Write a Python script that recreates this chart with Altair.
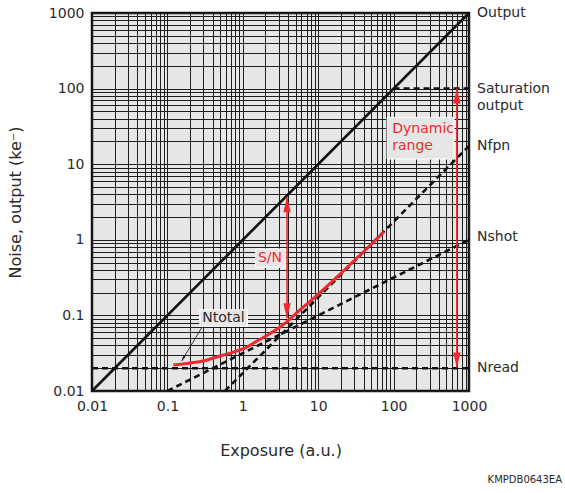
import altair as alt
import pandas as pd

FONT = "DejaVu Sans"
RED = "#ee2a30"
TXT = "#2a2a2a"

# ---- axis ticks ----
decades = [0.01, 0.1, 1, 10, 100, 1000]
tick_labels = ["0.01", "0.1", "1", "10", "100", "1000"]
minor_steps = [2, 3, 4, 5, 6, 7, 8, 9]
grid_vals = sorted(set(decades + [round(d * m, 6) for d in decades[:-1] for m in minor_steps]))

# ---- lines ----
output_x = [0.01, 1000]
output_y = [0.01, 1000]
sat_x = [100, 1000]
sat_y = [100, 100]
nfpn_x = [0.58, 1000]
nfpn_y = [0.01, 17.4]
nshot_x = [0.1, 1000]
nshot_y = [0.01, 1.0]
nread_x = [0.01, 1000]
nread_y = [0.02, 0.02]
ntotal_x = [0.12, 0.2, 0.3, 0.5, 0.7, 1, 1.5, 2, 3, 4, 5, 7, 10, 15, 20, 30, 50, 75]
ntotal_y = [0.022, 0.0235, 0.025, 0.029, 0.032, 0.036, 0.045, 0.053, 0.068, 0.085,
            0.105, 0.14, 0.19, 0.275, 0.36, 0.53, 0.86, 1.28]

# ---- arrows ----
sn_x = 3.86
sn_y = [0.092, 3.65]
dr_x = 690
dr_y = [0.0205, 100]

# ---- right-hand labels ----
right_labels = ["Output", "Saturation", "output", "Nfpn", "Nshot", "Nread"]
right_label_y = [1000, 100, 58, 17.4, 1.09, 0.02]

# ---- boxed annotations ----
box_names = ["Ntotal", "S/N", "Dynamic range"]
box_x = [0.268, 1.48, 82]
box_x2 = [1.15, 3.71, 632]
box_y = [0.0718, 0.433, 11.7]
box_y2 = [0.119, 0.755, 41.7]

ann_text = ["Ntotal", "S/N", "Dynamic", "range"]
ann_x = [0.555, 2.29, 96, 96]
ann_y = [0.092, 0.574, 29.2, 17.6]
ann_color = [TXT, RED, RED, RED]
ann_align = ["center", "center", "left", "left"]

pointer_x = [0.288, 0.155]
pointer_y = [0.070, 0.025]

figure_code = "KMPDB0643EA"

label_expr = " : ".join(f"datum.value == {v} ? '{t}'" for v, t in zip(decades, tick_labels)) + " : ''"

xscale = alt.Scale(type="log", domain=[0.01, 1000], nice=False)
yscale = alt.Scale(type="log", domain=[0.01, 1000], nice=False)
xaxis = alt.Axis(values=grid_vals, labelExpr=label_expr, title="Exposure (a.u.)",
                 labelPadding=8, titlePadding=29, labelFlush=False)
yaxis = alt.Axis(values=grid_vals, labelExpr=label_expr, title="Noise, output (ke⁻)",
                 labelPadding=8, titlePadding=25, labelFlush=False)


def X(field="x"):
    return alt.X(f"{field}:Q", scale=xscale, axis=xaxis)


def Y(field="y"):
    return alt.Y(f"{field}:Q", scale=yscale, axis=yaxis)


df_out = pd.DataFrame({"x": output_x, "y": output_y})
dashed = pd.concat([
    pd.DataFrame({"s": "sat", "x": sat_x, "y": sat_y}),
    pd.DataFrame({"s": "nfpn", "x": nfpn_x, "y": nfpn_y}),
    pd.DataFrame({"s": "nshot", "x": nshot_x, "y": nshot_y}),
    pd.DataFrame({"s": "nread", "x": nread_x, "y": nread_y}),
])
df_tot = pd.DataFrame({"x": ntotal_x, "y": ntotal_y})

out_line = alt.Chart(df_out).mark_line(color="#111", strokeWidth=2.6).encode(x=X(), y=Y())
dash_lines = alt.Chart(dashed).mark_line(color="#111", strokeWidth=2.6, strokeDash=[6, 4]).encode(
    x=X(), y=Y(), detail="s:N")
tot_line = alt.Chart(df_tot).mark_line(color=RED, strokeWidth=3, interpolate="monotone").encode(
    x=X(), y=Y())

df_arrows = pd.DataFrame({"x": [sn_x, dr_x], "y": [sn_y[0], dr_y[0]], "y2": [sn_y[1], dr_y[1]]})
shafts = alt.Chart(df_arrows).mark_rule(color=RED, strokeWidth=1.6).encode(x=X(), y=Y(), y2="y2:Q")

head_path = "M0,0L-0.5,2L0.5,2Z"
df_heads = pd.DataFrame({
    "x": [sn_x, sn_x, dr_x, dr_x],
    "y": [sn_y[0], sn_y[1], dr_y[0], dr_y[1]],
    "ang": [180, 0, 180, 0],
})
heads = alt.Chart(df_heads).mark_point(shape=head_path, size=225, filled=True, color=RED,
                                        opacity=1, strokeWidth=0).encode(
    x=X(), y=Y(), angle=alt.Angle("ang:Q", scale=None))

df_boxes = pd.DataFrame({"n": box_names, "x": box_x, "x2": box_x2, "y": box_y, "y2": box_y2})
boxes = alt.Chart(df_boxes).mark_rect(fill="#e6e6e6", stroke="#ffffff", strokeWidth=1).encode(
    x=X(), x2="x2:Q", y=Y(), y2="y2:Q")

df_ann = pd.DataFrame({"t": ann_text, "x": ann_x, "y": ann_y, "c": ann_color, "a": ann_align})
ann_center = alt.Chart(df_ann[df_ann["a"] == "center"]).mark_text(
    font=FONT, fontSize=14, align="center", baseline="middle").encode(
    x=X(), y=Y(), text="t:N", color=alt.Color("c:N", scale=None))
ann_left = alt.Chart(df_ann[df_ann["a"] == "left"]).mark_text(
    font=FONT, fontSize=14, align="left", baseline="middle").encode(
    x=X(), y=Y(), text="t:N", color=alt.Color("c:N", scale=None))

df_ptr = pd.DataFrame({"x": pointer_x, "y": pointer_y})
pointer = alt.Chart(df_ptr).mark_line(color="#222", strokeWidth=0.9).encode(x=X(), y=Y())
ptr_head = alt.Chart(df_ptr.iloc[[1]]).mark_point(shape=head_path, size=30, filled=True,
                                                  color="#222", opacity=1, strokeWidth=0,
                                                  angle=210).encode(x=X(), y=Y())

df_rl = pd.DataFrame({"t": right_labels, "y": right_label_y, "x": [1000] * len(right_labels)})
rlabels = alt.Chart(df_rl).mark_text(font=FONT, fontSize=14, align="left", baseline="middle",
                                     dx=8, color=TXT).encode(x=X(), y=Y(), text="t:N")

df_code = pd.DataFrame({"t": [figure_code], "x": [1000], "y": [0.01]})
code_text = alt.Chart(df_code).mark_text(font=FONT, fontSize=10, align="right", baseline="middle",
                                         dx=93, dy=89, color=TXT).encode(x=X(), y=Y(), text="t:N")

chart = alt.layer(
    out_line, dash_lines, tot_line, boxes, shafts, heads, ann_center, ann_left,
    pointer, ptr_head, rlabels, code_text
).properties(
    width=377, height=378,
    padding={"left": 7, "top": 6, "right": 2, "bottom": 4},
).configure_view(
    fill="#e6e6e6", stroke="#111", strokeWidth=2.5
).configure_axis(
    grid=True, gridColor="#1e1e1e", gridWidth=1, gridOpacity=1, domain=False, ticks=False,
    labelFont=FONT, labelFontSize=14, labelColor=TXT,
    titleFont=FONT, titleFontSize=16, titleFontWeight="normal", titleColor=TXT,
)

chart.save("out.html", embed_options={"renderer": "svg", "actions": False})
